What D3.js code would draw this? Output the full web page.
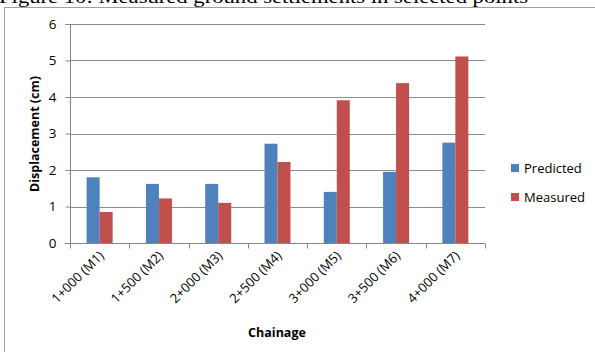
<!DOCTYPE html>
<html>
<head>
<meta charset="utf-8">
<script src="https://cdn.jsdelivr.net/npm/d3@7"></script>
<style>
  body { margin: 0; background: #fff; }
  svg { display: block; }
</style>
</head>
<body>
<div id="chart"></div>
<script>
var chainage = ["1+000 (M1)", "1+500 (M2)", "2+000 (M3)", "2+500 (M4)", "3+000 (M5)", "3+500 (M6)", "4+000 (M7)"];
var predicted = [1.80, 1.62, 1.62, 2.72, 1.40, 1.95, 2.75];
var measured = [0.85, 1.22, 1.10, 2.22, 3.91, 4.38, 5.11];
var seriesNames = ["Predicted", "Measured"];
var seriesColors = ["#4F81BD", "#C0504D"];
var yTicks = [0, 1, 2, 3, 4, 5, 6];

var svgWidth = 595;
var svgHeight = 352;
var font = "'Open Sans', 'Liberation Sans', sans-serif";

var svg = d3.select("#chart")
            .append("svg")
            .attr("width", svgWidth)
            .attr("height", svgHeight);

// caption of the figure, cut off at the top of the picture
svg.append("text")
   .attr("x", -1)
   .attr("y", 3)
   .attr("textLength", 529)
   .attr("lengthAdjust", "spacingAndGlyphs")
   .style("font-family", "'Liberation Serif', serif")
   .style("font-size", "19px")
   .attr("fill", "#000")
   .text("Figure 10: Measured ground settlements in selected points");

// chart frame
svg.append("path")
   .attr("d", "M4.5,352 V7.5 H595")
   .attr("fill", "none")
   .attr("stroke", "#a0a0a0")
   .attr("stroke-width", 1);

var xScale = d3.scaleBand()
               .domain(chainage)
               .range([70, 485]);

var xSub = d3.scaleBand()
             .domain(seriesNames)
             .range([0, xScale.bandwidth()])
             .paddingOuter(1.28);

var yScale = d3.scaleLinear()
               .domain([0, 6])
               .range([243, 24]);

// gridlines
svg.append("g")
   .selectAll("line")
   .data(yTicks.slice(1))
   .enter()
   .append("line")
   .attr("x1", 70)
   .attr("x2", 485)
   .attr("y1", d => Math.round(yScale(d)) + 0.5)
   .attr("y2", d => Math.round(yScale(d)) + 0.5)
   .attr("stroke", "#8c8c8c")
   .attr("stroke-width", 1);

// bars
var rows = chainage.map(function(c, i) {
    return { cat: c, values: [predicted[i], measured[i]] };
});

var groups = svg.append("g")
   .selectAll("g")
   .data(rows)
   .enter()
   .append("g")
   .attr("transform", d => `translate(${xScale(d.cat)},0)`);

groups.selectAll("rect")
   .data(d => d.values.map((v, j) => ({ name: seriesNames[j], value: v, color: seriesColors[j] })))
   .enter()
   .append("rect")
   .attr("x", d => xSub(d.name))
   .attr("width", xSub.bandwidth())
   .attr("y", d => yScale(d.value))
   .attr("height", d => yScale(0) - yScale(d.value))
   .attr("fill", d => d.color);

// y axis
var yAxis = d3.axisLeft(yScale)
              .tickValues(yTicks)
              .tickFormat(d3.format("d"))
              .tickSize(5)
              .tickPadding(9);

var yG = svg.append("g")
   .attr("transform", "translate(70.5,0)")
   .call(yAxis);
yG.select(".domain").attr("stroke", "#868686").attr("d", "M-5,24.5H0V243.5");
yG.selectAll(".tick line").attr("stroke", "#868686");
yG.selectAll(".tick text")
  .style("font-family", font)
  .style("font-size", "13.5px")
  .attr("fill", "#000");

// x axis
var xG = svg.append("g")
   .attr("transform", "translate(0,243.5)");
xG.append("line")
  .attr("x1", 65).attr("x2", 485)
  .attr("stroke", "#868686");
xG.selectAll(".xtick")
  .data(chainage.concat(["end"]))
  .enter()
  .append("line")
  .attr("class", "xtick")
  .attr("x1", (d, i) => Math.round(70 + i * xScale.step()) + 0.5)
  .attr("x2", (d, i) => Math.round(70 + i * xScale.step()) + 0.5)
  .attr("y1", 0)
  .attr("y2", 5)
  .attr("stroke", "#868686");

xG.selectAll(".xlabel")
  .data(chainage)
  .enter()
  .append("text")
  .attr("class", "xlabel")
  .attr("transform", d => `translate(${xScale(d) + xScale.bandwidth() / 2 + 5},13) rotate(-45)`)
  .style("text-anchor", "end")
  .style("font-family", font)
  .style("font-size", "13px")
  .attr("fill", "#000")
  .text(d => d);

// axis titles
svg.append("text")
   .attr("transform", "translate(39,134) rotate(-90)")
   .style("text-anchor", "middle")
   .style("font-family", font)
   .style("font-size", "12.5px")
   .style("font-weight", "bold")
   .attr("fill", "#000")
   .text("Displacement (cm)");

svg.append("text")
   .attr("x", 277)
   .attr("y", 337)
   .style("text-anchor", "middle")
   .style("font-family", font)
   .style("font-size", "12.5px")
   .style("font-weight", "bold")
   .attr("fill", "#000")
   .text("Chainage");

// legend
var legend = svg.append("g")
   .selectAll("g")
   .data(seriesNames)
   .enter()
   .append("g")
   .attr("transform", (d, i) => `translate(511,${164 + i * 29})`);

legend.append("rect")
   .attr("width", 8)
   .attr("height", 8)
   .attr("fill", (d, i) => seriesColors[i]);

legend.append("text")
   .attr("x", 13)
   .attr("y", 8.5)
   .style("font-family", font)
   .style("font-size", "13px")
   .attr("fill", "#000")
   .text(d => d);
</script>
</body>
</html>
